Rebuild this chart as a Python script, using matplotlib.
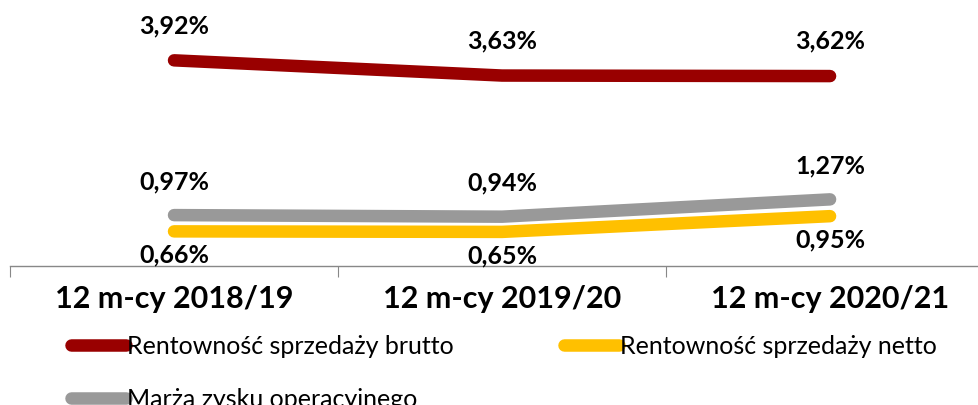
import matplotlib
matplotlib.use("Agg")
import matplotlib.pyplot as plt

categories = ["12 m-cy 2018/19", "12 m-cy 2019/20", "12 m-cy 2020/21"]
brutto = [3.92, 3.63, 3.62]
netto = [0.66, 0.65, 0.95]
operacyjna = [0.97, 0.94, 1.27]
names = ["Rentowność sprzedaży brutto", "Rentowność sprzedaży netto", "Marża zysku operacyjnego"]
colors = ["#990000", "#FFC000", "#999999"]

plt.rcParams['font.family'] = ['Lato', 'DejaVu Sans']

fig = plt.figure(figsize=(9.79, 4.05), dpi=100)
ax = fig.add_axes([10/979, 1 - 266/405, 969/979, 266/405])
x = list(range(len(categories)))

lw = 9
l_red, = ax.plot(x, brutto, color=colors[0], lw=lw, solid_capstyle='round', solid_joinstyle='round')
l_yel, = ax.plot(x, netto, color=colors[1], lw=lw, solid_capstyle='round', solid_joinstyle='round')
l_gry, = ax.plot(x, operacyjna, color=colors[2], lw=lw, solid_capstyle='round', solid_joinstyle='round')

def fmt(v):
    return f"{v:.2f}%".replace(".", ",")

for xi, v in zip(x, brutto):
    ax.annotate(fmt(v), (xi, v), xytext=(0, 25), textcoords='offset points',
                ha='center', va='center', fontsize=18, fontweight='bold')
for xi, v in zip(x, operacyjna):
    ax.annotate(fmt(v), (xi, v), xytext=(0, 24), textcoords='offset points',
                ha='center', va='center', fontsize=18, fontweight='bold')
for xi, v in zip(x, netto):
    ax.annotate(fmt(v), (xi, v), xytext=(0, -17), textcoords='offset points',
                ha='center', va='center', fontsize=18, fontweight='bold')

for s in ['top', 'right', 'left']:
    ax.spines[s].set_visible(False)
ax.spines['bottom'].set_color('#888888')
ax.spines['bottom'].set_linewidth(1)
ax.set_yticks([])
ax.set_xticks([-0.5, 0.5, 1.5, 2.5])
ax.set_xticklabels([])
ax.tick_params(axis='x', length=8, color='#888888', direction='out')
ax.set_xticks(x, minor=True)
ax.set_xticklabels(categories, minor=True, fontsize=22, fontweight='bold')
ax.tick_params(axis='x', which='minor', length=0, pad=14)
ax.set_xlim(-0.5, 2.454)
ax.set_ylim(0, 5.07)

handles = [l_red, l_gry, l_yel]
labels = [names[0], names[2], names[1]]
fig.legend(handles, labels, loc='upper left', bbox_to_anchor=(71/979, 1 - 335/405),
           ncol=2, frameon=False, fontsize=18, handlelength=2.2, handletextpad=0.05,
           columnspacing=4.4, labelspacing=1.2, borderpad=0, borderaxespad=0)

fig.savefig("out.png", dpi=100)
